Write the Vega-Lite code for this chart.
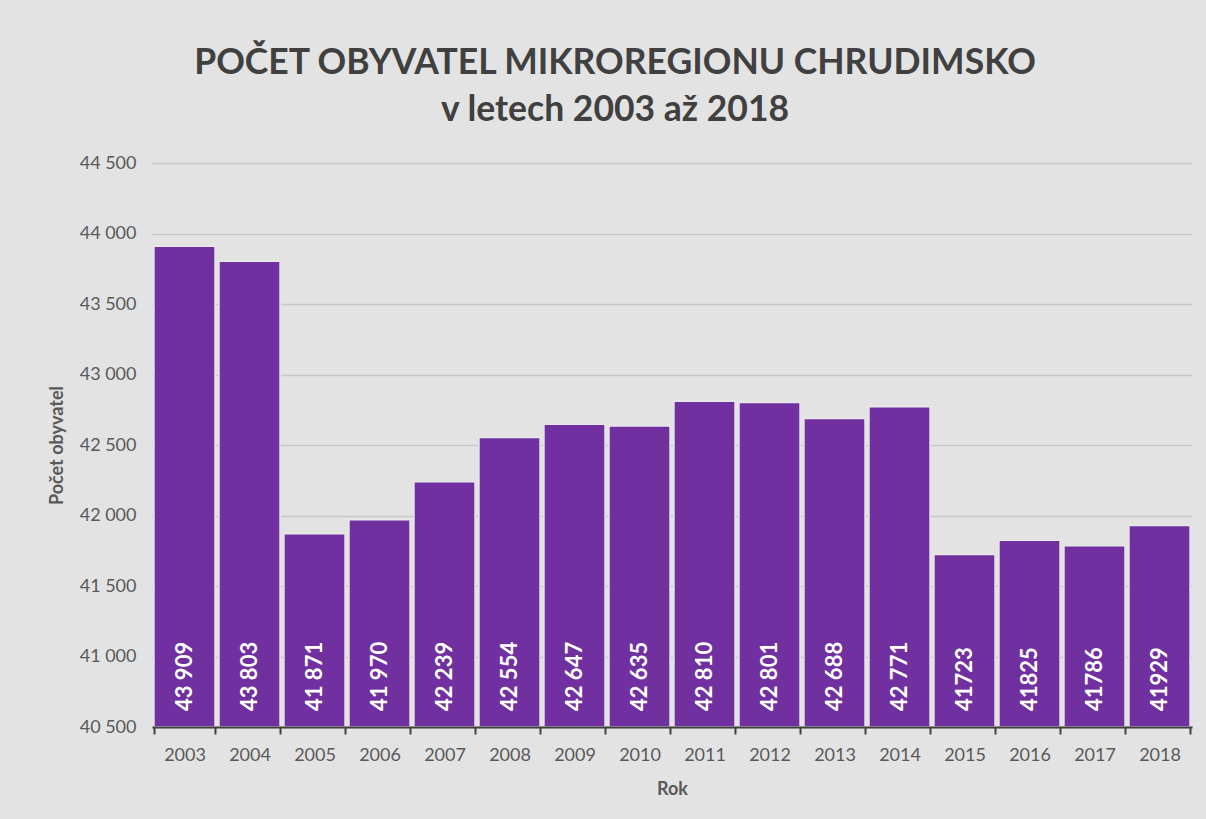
{
  "$schema": "https://vega.github.io/schema/vega-lite/v6.json",
  "width": 1040,
  "height": 564,
  "autosize": {"type": "none"},
  "padding": {"left": 152, "top": 163, "right": 14, "bottom": 92},
  "background": "#e3e3e3",
  "config": {
    "view": {"stroke": null},
    "font": "Lato",
    "locale": {"number": {"decimal": ",", "thousands": " ", "grouping": [3], "currency": ["", " Kč"]}}
  },
  "title": {
    "text": ["POČET OBYVATEL MIKROREGIONU CHRUDIMSKO", "v letech 2003 až 2018"],
    "font": "Lato",
    "fontSize": 35.5,
    "fontWeight": "bold",
    "color": "#404040",
    "anchor": "middle",
    "frame": "group",
    "dx": -57,
    "offset": 26,
    "lineHeight": 47
  },
  "data": {
    "values": [
      {"rok": "2003", "pocet": 43909, "popis": "43 909"},
      {"rok": "2004", "pocet": 43803, "popis": "43 803"},
      {"rok": "2005", "pocet": 41871, "popis": "41 871"},
      {"rok": "2006", "pocet": 41970, "popis": "41 970"},
      {"rok": "2007", "pocet": 42239, "popis": "42 239"},
      {"rok": "2008", "pocet": 42554, "popis": "42 554"},
      {"rok": "2009", "pocet": 42647, "popis": "42 647"},
      {"rok": "2010", "pocet": 42635, "popis": "42 635"},
      {"rok": "2011", "pocet": 42810, "popis": "42 810"},
      {"rok": "2012", "pocet": 42801, "popis": "42 801"},
      {"rok": "2013", "pocet": 42688, "popis": "42 688"},
      {"rok": "2014", "pocet": 42771, "popis": "42 771"},
      {"rok": "2015", "pocet": 41723, "popis": "41723"},
      {"rok": "2016", "pocet": 41825, "popis": "41825"},
      {"rok": "2017", "pocet": 41786, "popis": "41786"},
      {"rok": "2018", "pocet": 41929, "popis": "41929"}
    ]
  },
  "encoding": {
    "x": {
      "field": "rok",
      "type": "ordinal",
      "title": "Rok",
      "scale": {"paddingInner": 0.06, "paddingOuter": 0.03},
      "axis": {
        "labelAngle": 0,
        "labelFont": "Lato",
        "labelFontSize": 18,
        "labelColor": "#595959",
        "labelPadding": 12,
        "domainColor": "#404040",
        "domainWidth": 2,
        "tickColor": "#404040",
        "tickWidth": 2,
        "tickSize": 7,
        "tickBand": "extent",
        "titleFont": "Lato",
        "titleFontSize": 18,
        "titleFontWeight": "bold",
        "titleColor": "#595959",
        "titlePadding": 16,
        "zindex": 1
      }
    },
    "y": {
      "field": "pocet",
      "type": "quantitative",
      "title": "Počet obyvatel",
      "scale": {"domain": [40500, 44500], "nice": false, "zero": false},
      "axis": {
        "values": [40500, 41000, 41500, 42000, 42500, 43000, 43500, 44000, 44500],
        "format": ",d",
        "labelFont": "Lato",
        "labelFontSize": 18,
        "labelColor": "#595959",
        "labelPadding": 16,
        "ticks": false,
        "domain": false,
        "gridColor": "#c8c8c8",
        "gridWidth": 1.5,
        "titleFont": "Lato",
        "titleFontSize": 18,
        "titleFontWeight": "bold",
        "titleColor": "#595959",
        "titlePadding": 13
      }
    }
  },
  "layer": [
    {
      "mark": {"type": "bar", "color": "#7030A0", "stroke": "#e8e8e8", "strokeWidth": 1.5},
      "encoding": {
        "y2": {"datum": 40500}
      }
    },
    {
      "mark": {
        "type": "text",
        "angle": 270,
        "align": "left",
        "baseline": "middle",
        "dx": 16,
        "font": "Lato",
        "fontSize": 22,
        "fontWeight": "bold",
        "color": "#ffffff"
      },
      "encoding": {
        "y": {"datum": 40500},
        "text": {"field": "popis"}
      }
    }
  ]
}
